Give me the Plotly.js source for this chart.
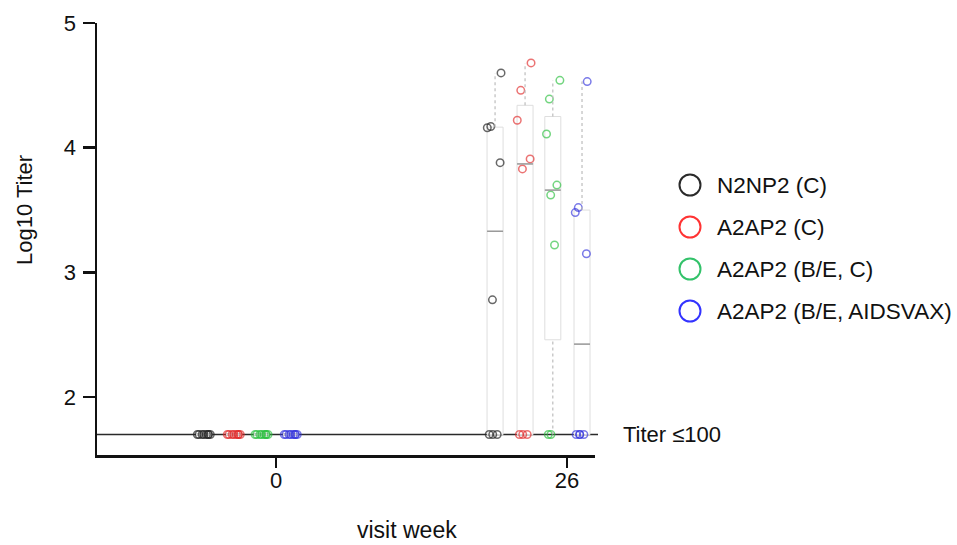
<!DOCTYPE html>
<html><head><meta charset="utf-8">
<script src="https://cdn.plot.ly/plotly-3.0.1.min.js"></script>
<style>html,body{margin:0;padding:0;background:#fff}#chart{width:957px;height:545px}</style>
</head><body><div id="chart"></div>
<script>
// ---------------- data ----------------
const weeks = [0, 26];
const weekLabels = ['0', '26'];
const seriesNames = ['N2NP2 (C)', 'A2AP2 (C)', 'A2AP2 (B/E, C)', 'A2AP2 (B/E, AIDSVAX)'];
// log10 titers, week 0
const wk0_N2NP2_C = [1.7, 1.7, 1.7, 1.7, 1.7, 1.7, 1.7, 1.7];
const wk0_A2AP2_C = [1.7, 1.7, 1.7, 1.7, 1.7, 1.7, 1.7, 1.7];
const wk0_A2AP2_BE_C = [1.7, 1.7, 1.7, 1.7, 1.7, 1.7, 1.7, 1.7];
const wk0_A2AP2_BE_AIDSVAX = [1.7, 1.7, 1.7, 1.7, 1.7, 1.7, 1.7, 1.7];
// log10 titers, week 26
const wk26_N2NP2_C = [4.60, 4.17, 4.16, 3.88, 2.78, 1.7, 1.7, 1.7];
const wk26_A2AP2_C = [4.68, 4.46, 4.22, 3.91, 3.83, 1.7, 1.7, 1.7];
const wk26_A2AP2_BE_C = [4.54, 4.39, 4.11, 3.70, 3.62, 3.22, 1.7, 1.7];
const wk26_A2AP2_BE_AIDSVAX = [4.53, 3.52, 3.48, 3.15, 1.7, 1.7, 1.7, 1.7];
const thresholdValue = 1.7;
const thresholdLabel = 'Titer ≤100';
const yTickVals = [2, 3, 4, 5];

// ---------------- style ----------------
const byWeek = [
  [wk0_N2NP2_C, wk26_N2NP2_C],
  [wk0_A2AP2_C, wk26_A2AP2_C],
  [wk0_A2AP2_BE_C, wk26_A2AP2_BE_C],
  [wk0_A2AP2_BE_AIDSVAX, wk26_A2AP2_BE_AIDSVAX]
];
const dodge = [-6.43, -3.75, -1.27, 1.34];
const boxW = 1.43;
const ptColors = ['rgba(40,40,40,0.7)', 'rgba(225,40,40,0.65)', 'rgba(40,190,60,0.65)', 'rgba(50,50,220,0.65)'];
const legColors = ['#2a2a2a', '#ff3333', '#33c26a', '#3333ff'];
const FONT = 'Liberation Sans, Arial, sans-serif';

function quart(arr) {
  const s = arr.slice().sort((a, b) => a - b);
  const n = s.length;
  const med = a => { const m = a.length; return m % 2 ? a[(m - 1) / 2] : (a[m / 2 - 1] + a[m / 2]) / 2; };
  const lower = s.slice(0, Math.floor(n / 2));
  const upper = s.slice(Math.ceil(n / 2));
  return { min: s[0], max: s[n - 1], q1: med(lower), med: med(s), q3: med(upper) };
}

const traces = [];
byWeek.forEach((grp, g) => {
  const st = grp.map(quart);
  const xs = weeks.map(w => w + dodge[g]);
  traces.push({
    type: 'box', x: xs, q1: st.map(s => s.q1), median: st.map(s => s.med), q3: st.map(s => s.q3),
    lowerfence: st.map(s => s.q1), upperfence: st.map(s => s.q3),
    width: boxW, whiskerwidth: 0, boxpoints: false,
    line: { color: '#dedede', width: 1 }, fillcolor: 'rgba(255,255,255,1)',
    showlegend: false, hoverinfo: 'skip'
  });
  const mx = [], my = [];
  xs.forEach((x, i) => { if (st[i].q3 > st[i].q1) { mx.push(x - boxW / 2, x + boxW / 2, null); my.push(st[i].med, st[i].med, null); } });
  traces.push({ type: 'scatter', mode: 'lines', x: mx, y: my, line: { color: '#9a9a9a', width: 1.5 }, showlegend: false, hoverinfo: 'skip' });
  const wx = [], wy = [];
  xs.forEach((x, i) => {
    if (st[i].max > st[i].q3) { wx.push(x, x, null); wy.push(st[i].q3, st[i].max, null); }
    if (st[i].min < st[i].q1) { wx.push(x, x, null); wy.push(st[i].min, st[i].q1, null); }
  });
  traces.push({ type: 'scatter', mode: 'lines', x: wx, y: wy, line: { color: '#bdbdbd', width: 1.2, dash: 'dot' }, showlegend: false, hoverinfo: 'skip' });
});
byWeek.forEach((grp, g) => {
  const px = [], py = [];
  grp.forEach((vals, wi) => vals.forEach(v => { px.push(weeks[wi] + dodge[g]); py.push(v); }));
  traces.push({
    type: 'box', x: px, y: py, name: seriesNames[g], width: boxW,
    boxpoints: 'all', jitter: 1, pointpos: 0, whiskerwidth: 0,
    line: { color: 'rgba(0,0,0,0)', width: 0 }, fillcolor: 'rgba(0,0,0,0)',
    marker: { symbol: 'circle-open', size: 7.5, color: ptColors[g], line: { width: 1.5, color: ptColors[g] } },
    showlegend: false, hoverinfo: 'y'
  });
});

const L = 97, R = 595, T = 23, B = 455;
const px2x = p => (p - L) / (R - L);
const py2y = p => (B - p) / (B - T);

const shapes = [{
  type: 'line', xref: 'paper', yref: 'y', x0: 0, x1: px2x(598), y0: thresholdValue, y1: thresholdValue,
  line: { color: '#2a2a2a', width: 1.5 }, layer: 'below'
}];
const annotations = [
  { text: thresholdLabel, xref: 'paper', yref: 'y', x: px2x(621), y: thresholdValue, xanchor: 'left', yanchor: 'middle', showarrow: false, font: { family: FONT, size: 22, color: '#111' } },
  { text: 'Log10 Titer', xref: 'paper', yref: 'paper', x: px2x(24), y: py2y(210), textangle: -90, xanchor: 'center', yanchor: 'middle', showarrow: false, font: { family: FONT, size: 22, color: '#111' } },
  { text: 'visit week', xref: 'paper', yref: 'paper', x: px2x(407), y: py2y(530), xanchor: 'center', yanchor: 'middle', showarrow: false, font: { family: FONT, size: 23, color: '#111' } }
];
seriesNames.forEach((nm, i) => {
  const cy = 185 + 42 * i;
  shapes.push({ type: 'circle', xref: 'paper', yref: 'paper', xsizemode: 'pixel', ysizemode: 'pixel',
    xanchor: px2x(690), yanchor: py2y(cy), x0: -10.5, x1: 10.5, y0: -10.5, y1: 10.5,
    line: { color: legColors[i], width: 2 }, fillcolor: 'rgba(0,0,0,0)' });
  annotations.push({ text: nm, xref: 'paper', yref: 'paper', x: px2x(715), y: py2y(cy), xanchor: 'left', yanchor: 'middle', showarrow: false, font: { family: FONT, size: 22.5, color: '#111' } });
});

const layout = {
  width: 957, height: 545,
  margin: { l: L, r: 957 - R, t: T, b: 545 - B, pad: 0 },
  paper_bgcolor: '#fff', plot_bgcolor: '#fff',
  showlegend: false, boxmode: 'overlay',
  font: { family: FONT, size: 22, color: '#111' },
  xaxis: {
    range: [-16.0, 28.5], tickvals: weeks, ticktext: weekLabels,
    ticks: 'outside', ticklen: 10, tickwidth: 2.5, tickcolor: '#111', ticklabelstandoff: -6,
    showline: true, linewidth: 2.5, linecolor: '#111', zeroline: false, showgrid: false,
    tickfont: { family: FONT, size: 22, color: '#111' }
  },
  yaxis: {
    range: [1.536, 5.0], tickvals: yTickVals, ticktext: yTickVals.map(String),
    ticks: 'outside', ticklen: 12, tickwidth: 2.5, tickcolor: '#111', ticklabelstandoff: 2,
    showline: true, linewidth: 2.5, linecolor: '#111', zeroline: false, showgrid: false,
    tickfont: { family: FONT, size: 22, color: '#111' }
  },
  shapes: shapes, annotations: annotations
};
Plotly.newPlot('chart', traces, layout, { displayModeBar: false, staticPlot: true });
</script>
</body></html>
